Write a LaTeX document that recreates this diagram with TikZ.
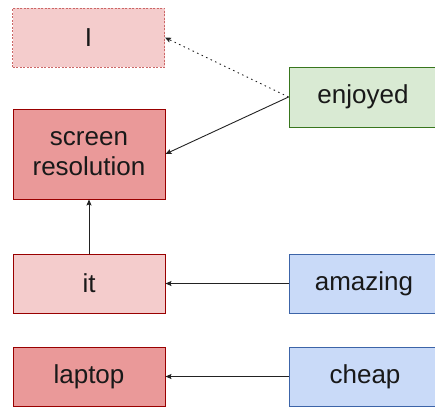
\documentclass[tikz,border=0pt]{standalone}
\usepackage{fontspec}
\setmainfont{Liberation Sans}
\usetikzlibrary{arrows.meta}
\definecolor{pinkL}{HTML}{F4CCCC}
\definecolor{pinkD}{HTML}{EA9999}
\definecolor{redB}{HTML}{990000}
\definecolor{redDash}{HTML}{CC6666}
\definecolor{greenF}{HTML}{D9EAD3}
\definecolor{greenB}{HTML}{38761D}
\definecolor{blueF}{HTML}{C9DAF8}
\definecolor{blueB}{HTML}{3C64A8}
\definecolor{lineC}{HTML}{222222}
\tikzset{
  box/.style={draw, line width=0.9pt, minimum width=152pt, inner sep=0pt, align=center,
    font=\fontsize{26}{30}\selectfont, text=black!90},
  lightred/.style={box, fill=pinkL, draw=redB},
  darkred/.style={box, fill=pinkD, draw=redB},
  dashedred/.style={box, fill=pinkL, draw=redDash, dash pattern=on 2pt off 1.5pt},
  greenbox/.style={box, fill=greenF, draw=greenB},
  bluebox/.style={box, fill=blueF, draw=blueB},
  conn/.style={draw=lineC, line width=0.9pt, -{Stealth[length=6pt,width=5pt,inset=1pt]}},
  dotconn/.style={conn, dash pattern=on 1.5pt off 3.5pt},
}
\begin{document}
\begin{tikzpicture}[x=1pt,y=-1pt]
\useasboundingbox (0,0) rectangle (435,407);
\clip (0,0) rectangle (435,407);
\node[dashedred, minimum height=59pt] (I) at (88.5,37.5) {I};
\node[darkred, minimum height=90pt] (screen) at (89,154) {screen\\resolution};
\node[lightred, minimum height=59pt] (it) at (89,283.5) {it};
\node[darkred, minimum height=59pt] (laptop) at (89,376.5) {laptop};
\node[greenbox, minimum height=60pt] (enjoyed) at (365,97) {\hspace*{-4pt}enjoyed};
\node[bluebox, minimum height=59pt] (amazing) at (365,283.5) {\hspace*{-2pt}amazing};
\node[bluebox, minimum height=59pt] (cheap) at (365,376.5) {cheap};
\draw[dotconn] (enjoyed.west) -- (I.east);
\draw[conn] (enjoyed.west) -- (screen.east);
\draw[conn] (it.north) -- (screen.south);
\draw[conn] (amazing.west) -- (it.east);
\draw[conn] (cheap.west) -- (laptop.east);
\end{tikzpicture}
\end{document}
